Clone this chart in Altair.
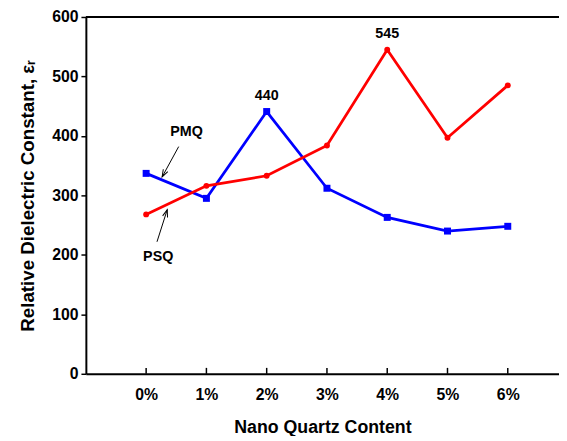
import json
import altair as alt
import pandas as pd

# ---- data ----
categories = ["0%", "1%", "2%", "3%", "4%", "5%", "6%"]
pmq_values = [337, 295, 441, 312, 263, 240, 248]
psq_values = [268, 316, 333, 384, 545, 397, 485]
series_names = ["PMQ", "PSQ"]
series_colors = ["#0000ff", "#ff0000"]
series_shapes = ["square", "circle"]
series_sizes = [50, 36]

peak_series = ["PMQ", "PSQ"]
peak_index = [2, 4]
peak_text = ["440", "545"]

# series name annotations (data coordinates)
note_text = ["PMQ", "PSQ"]
note_x = [0.67, 0.20]
note_y = [407, 197]
arrow_x_from = [0.54, 0.18]
arrow_y_from = [382, 222]
arrow_x_to = [0.265, 0.35]
arrow_y_to = [331, 276]
arrow_angle = [208, 17]

W, H = 480, 362

rows = []
for name, vals in zip(series_names, [pmq_values, psq_values]):
    for i, v in enumerate(vals):
        rows.append({"series": name, "idx": i, "cat": categories[i], "value": v})
df = pd.DataFrame(rows)

peaks = pd.DataFrame({"series": peak_series, "idx": peak_index, "text": peak_text})
peaks["value"] = [df[(df.series == s) & (df.idx == i)].value.iloc[0] for s, i in zip(peak_series, peak_index)]

notes = pd.DataFrame({"text": note_text, "x": note_x, "y": note_y,
                      "x1": arrow_x_from, "y1": arrow_y_from,
                      "x2": arrow_x_to, "y2": arrow_y_to, "angle": arrow_angle})

ticks_df = pd.DataFrame({"idx": list(range(len(categories)))})
frame_df = pd.DataFrame({"k": [0]})

label_expr = f"{json.dumps(categories)}[datum.value]"

x_scale = alt.Scale(domain=[-1, 6.85], nice=False, zero=False)
y_scale = alt.Scale(domain=[0, 600], nice=False)

x_enc = alt.X("idx:Q", scale=x_scale,
              axis=alt.Axis(values=list(range(len(categories))), labelExpr=label_expr,
                            ticks=False, title="Nano Quartz Content",
                            labelPadding=13, titlePadding=17))
y_enc = alt.Y("value:Q", scale=y_scale,
              axis=alt.Axis(values=[0, 100, 200, 300, 400, 500, 600], tickSize=5,
                            labelPadding=3, title="Relative Dielectric Constant, \u03b5\u1d63",
                            titlePadding=14, titleFontSize=19))

color = alt.Color("series:N", scale=alt.Scale(domain=series_names, range=series_colors), legend=None)

base = alt.Chart(df)
lines = base.mark_line(strokeWidth=2.8).encode(x=x_enc, y=y_enc, color=color)
points = base.mark_point(filled=True, opacity=1).encode(
    x="idx:Q", y="value:Q", color=color,
    shape=alt.Shape("series:N", scale=alt.Scale(domain=series_names, range=series_shapes), legend=None),
    size=alt.Size("series:N", scale=alt.Scale(domain=series_names, range=series_sizes), legend=None),
)

peak_labels = alt.Chart(peaks).mark_text(font="Liberation Sans", fontWeight="bold", fontSize=14.5,
                                         dy=-16, color="black").encode(
    x="idx:Q", y="value:Q", text="text:N")

tick_marks = alt.Chart(ticks_df).mark_rule(color="black", strokeWidth=1.5).encode(
    x="idx:Q", y=alt.value(H), y2=alt.value(H - 6))

top_line = alt.Chart(frame_df).mark_rule(color="black", strokeWidth=2).encode(
    x=alt.value(0), x2=alt.value(W), y=alt.value(0))

note_labels = alt.Chart(notes).mark_text(font="Liberation Sans", fontWeight="bold", fontSize=14.5,
                                         color="black").encode(
    x="x:Q", y="y:Q", text="text:N")

arrow_shafts = alt.Chart(notes).mark_rule(color="black", strokeWidth=1).encode(
    x="x1:Q", y="y1:Q", x2="x2:Q", y2="y2:Q")

arrow_heads = alt.Chart(notes).mark_point(shape="M-0.35,1L0,0L0.35,1", filled=False, color="black",
                                          strokeWidth=1, size=220, opacity=1).encode(
    x="x2:Q", y="y2:Q", angle=alt.Angle("angle:Q", scale=None))

chart = alt.layer(lines, points, peak_labels, tick_marks, top_line,
                  arrow_shafts, arrow_heads, note_labels).properties(
    width=W, height=H,
    autosize=alt.AutoSizeParams(type="none"),
    padding={"left": 79, "top": 6, "right": 0, "bottom": 60},
).configure_view(stroke=None).configure_axis(
    domainColor="black", domainWidth=2, tickColor="black", tickWidth=1.5,
    labelFont="Liberation Sans", labelFontWeight="bold", labelFontSize=16, labelColor="black",
    titleFont="Liberation Sans", titleFontWeight="bold", titleFontSize=18, titleColor="black",
    grid=False,
)

chart.save("out.html", embed_options={"renderer": "svg", "actions": False})
